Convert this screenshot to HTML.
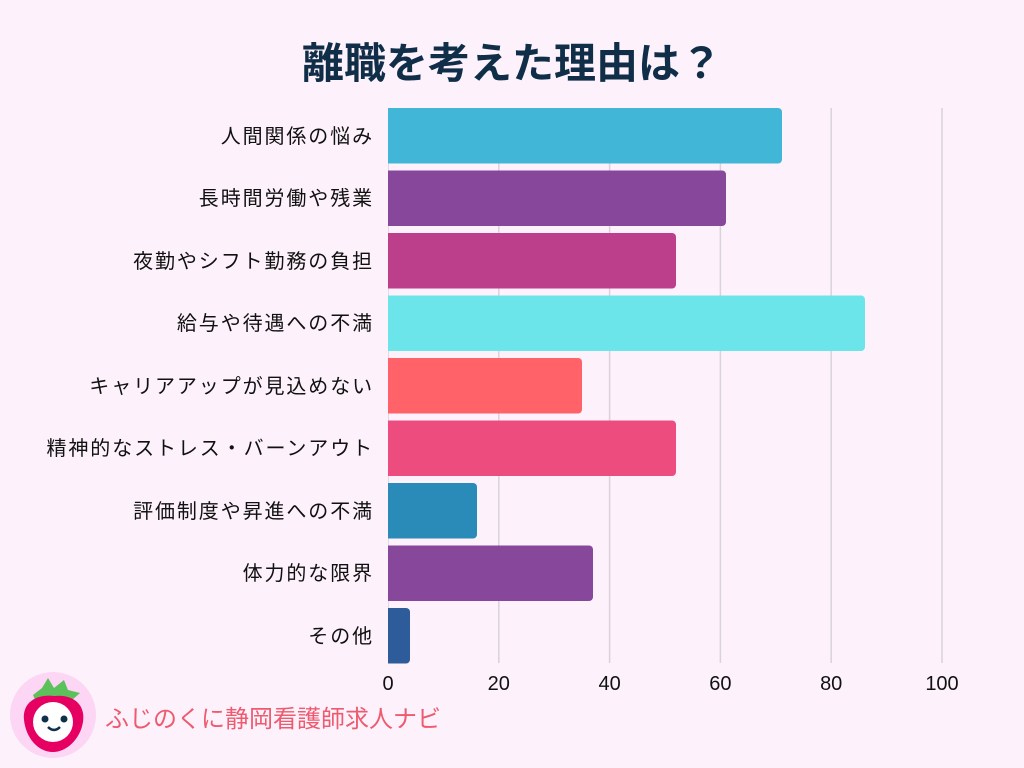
<!DOCTYPE html>
<html><head><meta charset="utf-8"><style>
html,body{margin:0;padding:0;background:#fdf2fc;}
svg{display:block;font-family:"Liberation Sans","Noto Sans CJK JP",sans-serif;}
</style></head><body>
<svg width="1024" height="768" viewBox="0 0 1024 768">
<rect width="1024" height="768" fill="#fdf2fc"/>
<text x="512" y="78" text-anchor="middle" font-size="42" font-weight="bold" fill="#102e48">離職を考えた理由は？</text>
<g stroke="#d9d2da" stroke-width="1.5">
<line x1="498.8" y1="108" x2="498.8" y2="663"/>
<line x1="609.6" y1="108" x2="609.6" y2="663"/>
<line x1="720.4" y1="108" x2="720.4" y2="663"/>
<line x1="831.2" y1="108" x2="831.2" y2="663"/>
<line x1="942" y1="108" x2="942" y2="663"/>
<line x1="388" y1="108" x2="388" y2="663"/>
</g>
<g>
<rect x="384" y="108" width="398" height="55.5" rx="4" fill="#42b6d6"/>
<rect x="384" y="170.5" width="342" height="55.5" rx="4" fill="#87479a"/>
<rect x="384" y="233" width="292" height="55.5" rx="4" fill="#bb3f8b"/>
<rect x="384" y="295.5" width="481" height="55.5" rx="4" fill="#6be5ea"/>
<rect x="384" y="358" width="198" height="55.5" rx="4" fill="#ff6369"/>
<rect x="384" y="420.5" width="292" height="55.5" rx="4" fill="#ed4c7e"/>
<rect x="384" y="483" width="93" height="55.5" rx="4" fill="#2a8ab8"/>
<rect x="384" y="545.5" width="209" height="55.5" rx="4" fill="#87479a"/>
<rect x="384" y="608" width="26" height="55.5" rx="4" fill="#2e5b99"/>
<rect x="384" y="100" width="4" height="570" fill="#fdf2fc"/>
</g>
<g font-size="20" fill="#111" text-anchor="end" letter-spacing="1.9">
<text x="374" y="143">人間関係の悩み</text>
<text x="374" y="205">長時間労働や残業</text>
<text x="374" y="268">夜勤やシフト勤務の負担</text>
<text x="374" y="330">給与や待遇への不満</text>
<text x="374" y="393">キャリアアップが見込めない</text>
<text x="374" y="455">精神的なストレス・バーンアウト</text>
<text x="374" y="518">評価制度や昇進への不満</text>
<text x="374" y="580">体力的な限界</text>
<text x="374" y="643">その他</text>
</g>
<g font-size="20" fill="#111" text-anchor="middle">
<text x="388" y="690">0</text>
<text x="498.8" y="690">20</text>
<text x="609.6" y="690">40</text>
<text x="720.4" y="690">60</text>
<text x="831.2" y="690">80</text>
<text x="942" y="690">100</text>
</g>
<circle cx="53" cy="715" r="43" fill="#fcd6f4"/>
<path d="M33 695 L42 688 L48 678 L54 688 L64 680 L68 690 L80 693 L72 700 L36 702 Z" fill="#5cc15a"/>
<path d="M24 720 C22 700 40 694 54 696 C70 694 86 702 83 722 C80 740 66 752 53 752 C38 752 26 738 24 720 Z" fill="#e50062"/>
<circle cx="53" cy="722" r="20" fill="#fff"/>
<circle cx="45" cy="719" r="3.5" fill="#0f2f4a"/>
<circle cx="64" cy="719" r="3.5" fill="#0f2f4a"/>
<path d="M48 727 Q54 733 60 727" stroke="#0f2f4a" stroke-width="2.5" fill="none"/>
<text x="105" y="727" font-size="24" fill="#ee5a6e">ふじのくに静岡看護師求人ナビ</text>
</svg>
</body></html>
